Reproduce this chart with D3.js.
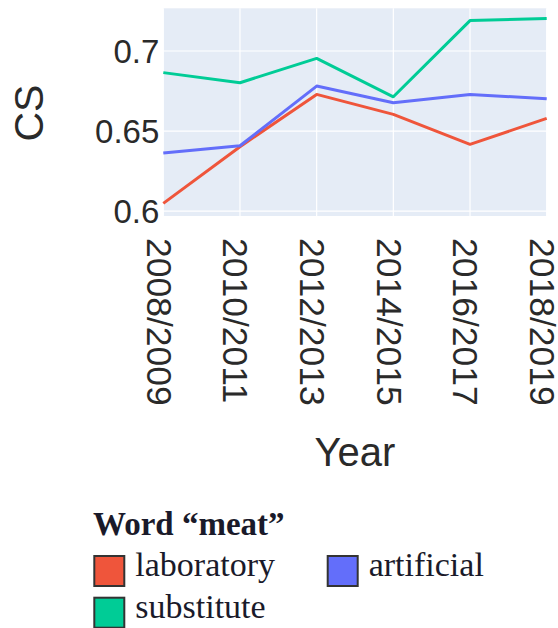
<!DOCTYPE html>
<html>
<head>
<meta charset="utf-8">
<script src="https://cdn.jsdelivr.net/npm/d3@7"></script>
<style>
  body { margin: 0; background: #fff; }
  svg { display: block; }
</style>
</head>
<body>
<div id="chart"></div>
<script>
var years = ["2008/2009", "2010/2011", "2012/2013", "2014/2015", "2016/2017", "2018/2019"];
var laboratory = [0.6048, 0.6402, 0.6729, 0.6604, 0.6417, 0.6579];
var artificial = [0.6363, 0.6408, 0.6781, 0.6677, 0.6729, 0.6702];
var substitute = [0.6865, 0.6802, 0.6954, 0.6714, 0.7190, 0.7204];
var yTicks = [0.6, 0.65, 0.7];

var seriesNames = ["laboratory", "artificial", "substitute"];
var seriesColors = ["#EF553B", "#636EFA", "#00CC96"];
var seriesValues = [laboratory, artificial, substitute];

var width = 558, height = 628;
var plot = {left: 163.3, right: 546.7, top: 8.3, bottom: 216};

var svg = d3.select("#chart").append("svg")
    .attr("width", width)
    .attr("height", height);

var xScale = d3.scalePoint()
    .domain(years)
    .range([plot.left, plot.right]);

var yScale = d3.scaleLinear()
    .domain([0.5969, 0.7267])
    .range([plot.bottom, plot.top]);

// plot background
svg.append("rect")
    .attr("x", plot.left)
    .attr("y", plot.top)
    .attr("width", plot.right - plot.left)
    .attr("height", plot.bottom - plot.top)
    .attr("fill", "#E5ECF6");

// grid
svg.selectAll(".vgrid")
    .data(years)
    .enter().append("line")
    .attr("class", "vgrid")
    .attr("x1", function (d) { return xScale(d); })
    .attr("x2", function (d) { return xScale(d); })
    .attr("y1", plot.top)
    .attr("y2", plot.bottom)
    .attr("stroke", "#fff")
    .attr("stroke-width", 1.2);

svg.selectAll(".hgrid")
    .data(yTicks)
    .enter().append("line")
    .attr("class", "hgrid")
    .attr("x1", plot.left)
    .attr("x2", plot.right)
    .attr("y1", function (d) { return yScale(d); })
    .attr("y2", function (d) { return yScale(d); })
    .attr("stroke", "#fff")
    .attr("stroke-width", 1.2);

// lines
var line = d3.line()
    .x(function (d, i) { return xScale(years[i]); })
    .y(function (d) { return yScale(d); });

svg.selectAll(".series")
    .data(seriesValues)
    .enter().append("path")
    .attr("class", "series")
    .attr("d", line)
    .attr("fill", "none")
    .attr("stroke", function (d, i) { return seriesColors[i]; })
    .attr("stroke-width", 3)
    .attr("stroke-linejoin", "round");

// y axis
var yAxis = svg.append("g")
    .attr("transform", "translate(" + (plot.left - 4) + ",0)")
    .call(d3.axisLeft(yScale).tickValues(yTicks).tickSize(0).tickPadding(0)
        .tickFormat(function (d) { return String(+d.toFixed(2)); }));
yAxis.select(".domain").remove();
yAxis.selectAll("text")
    .attr("font-family", "'Liberation Sans', Arial, sans-serif")
    .attr("font-size", 33)
    .attr("fill", "#2a2a2a")
    .attr("dy", "0.36em");

// x axis
var xAxis = svg.append("g")
    .attr("transform", "translate(0," + (plot.bottom + 22) + ")")
    .call(d3.axisBottom(xScale).tickSize(0).tickPadding(0));
xAxis.select(".domain").remove();
xAxis.selectAll("text")
    .attr("font-family", "'Liberation Sans', Arial, sans-serif")
    .attr("font-size", 35.5)
    .attr("fill", "#2a2a2a")
    .attr("text-anchor", "start")
    .attr("y", 0)
    .attr("x", 0)
    .attr("dy", "0.48em")
    .attr("transform", "rotate(90)");

// axis titles
svg.append("text")
    .attr("transform", "translate(" + 43 + "," + 113 + ") rotate(-90)")
    .attr("text-anchor", "middle")
    .attr("font-family", "'Liberation Sans', Arial, sans-serif")
    .attr("font-size", 41)
    .attr("fill", "#2a2a2a")
    .text("CS");

svg.append("text")
    .attr("x", (plot.left + plot.right) / 2)
    .attr("y", 466)
    .attr("text-anchor", "middle")
    .attr("font-family", "'Liberation Sans', Arial, sans-serif")
    .attr("font-size", 40)
    .attr("fill", "#2a2a2a")
    .text("Year");

// legend
var legend = svg.append("g")
    .attr("font-family", "'Liberation Serif', 'Times New Roman', serif")
    .attr("fill", "#1a1a2a");

legend.append("text")
    .attr("x", 93)
    .attr("y", 535)
    .attr("font-size", 33)
    .attr("font-weight", "bold")
    .text("Word \u201Cmeat\u201D");

var legendPos = [[93.3, 555], [326.7, 555], [93.3, 596.7]];

var items = legend.selectAll(".item")
    .data(seriesNames)
    .enter().append("g")
    .attr("class", "item")
    .attr("transform", function (d, i) { return "translate(" + legendPos[i][0] + "," + legendPos[i][1] + ")"; });

items.append("rect")
    .attr("x", 1)
    .attr("y", 1)
    .attr("width", 30)
    .attr("height", 30)
    .attr("fill", function (d, i) { return seriesColors[i]; })
    .attr("stroke", "#333")
    .attr("stroke-width", 2);

items.append("text")
    .attr("x", 42)
    .attr("y", 21)
    .attr("font-size", 34)
    .text(function (d) { return d; });
</script>
</body>
</html>
